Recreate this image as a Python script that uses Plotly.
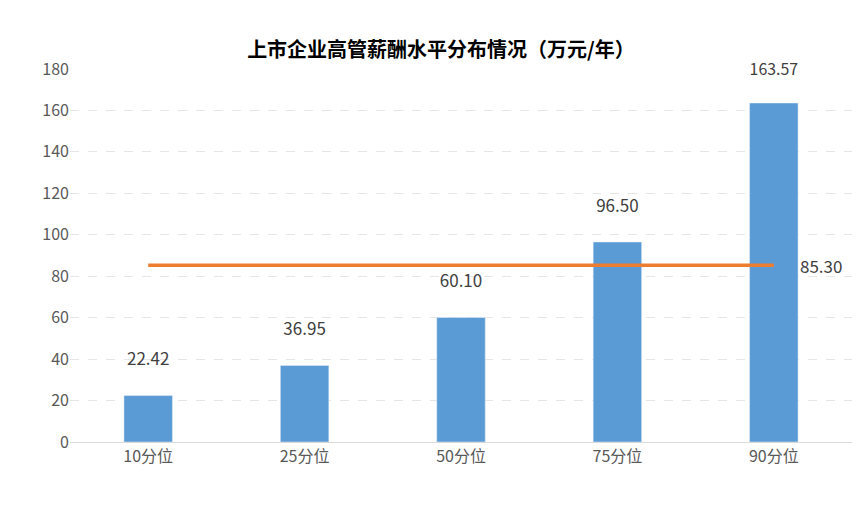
import plotly.graph_objects as go

categories = ['10分位', '25分位', '50分位', '75分位', '90分位']
salaries = [22.42, 36.95, 60.10, 96.50, 163.57]
average = [85.30, 85.30, 85.30, 85.30, 85.30]

fig = go.Figure()
fig.add_trace(go.Bar(x=categories, y=salaries, width=0.31, marker_color='#5b9bd5',
                     text=['%.2f<br> ' % v for v in salaries], textposition='outside',
                     textfont=dict(size=17, color='#404040'), cliponaxis=False))
fig.add_trace(go.Scatter(x=categories, y=average, mode='lines',
                         line=dict(color='#ed7d31', width=3.5)))
fig.add_annotation(x=categories[-1], y=average[-1], text='%.2f' % average[-1],
                   showarrow=False, xanchor='left', xshift=24,
                   font=dict(size=17, color='#404040'))

fig.update_layout(
    width=866, height=505, showlegend=False,
    plot_bgcolor='white', paper_bgcolor='white',
    font=dict(family='Noto Sans CJK SC', color='#595959'),
    title=dict(text='<b>上市企业高管薪酬水平分布情况（万元/年）</b>', x=0.5, y=0.93,
               xanchor='center', font=dict(size=20, color='#000000')),
    margin=dict(l=62, r=22, t=61, b=71),
)
fig.update_yaxes(range=[0, 180], dtick=20, showgrid=True, gridcolor='#e6e6e6',
                 griddash='dash', zeroline=False, tickfont=dict(size=16), ticklen=0)
fig.update_xaxes(showline=True, linecolor='#d9d9d9', tickfont=dict(size=16))

fig.write_html("out.html")
